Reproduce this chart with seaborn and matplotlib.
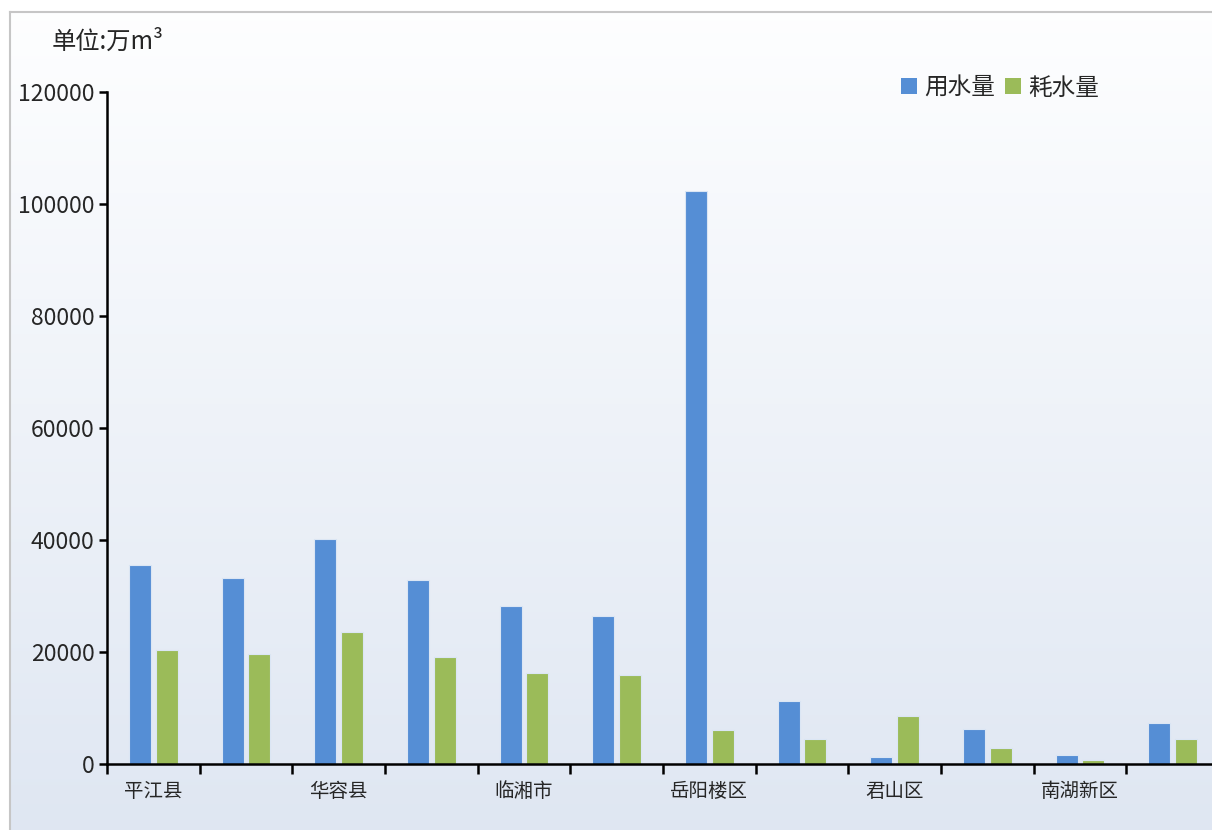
import numpy as np
import pandas as pd
import matplotlib
matplotlib.use('Agg')
import matplotlib.pyplot as plt
import seaborn as sns
from matplotlib.patches import Patch

# data (万m3)
districts = ['平江县', '湘阴县', '华容县', '汨罗市', '临湘市', '岳阳县',
             '岳阳楼区', '云溪区', '君山区', '经开区', '南湖新区', '屈原区']
use_water = [35500, 33200, 40200, 32900, 28200, 26400,
             102300, 11250, 1250, 6250, 1600, 7300]
consume_water = [20400, 19600, 23600, 19100, 16300, 15900,
                 6100, 4500, 8600, 2900, 700, 4500]
series_names = ['用水量', '耗水量']
colors = ['#558ed5', '#9bbb59']

df = pd.DataFrame({
    'district': districts * 2,
    'value': use_water + consume_water,
    'series': [series_names[0]] * len(districts) + [series_names[1]] * len(districts),
})

sns.set_style('white')
plt.rcParams['font.family'] = ['Noto Sans CJK SC', 'DejaVu Sans']

fig = plt.figure(figsize=(12.12, 8.3), dpi=100)

# background gradient panel with grey border
bg = fig.add_axes([10 / 1212, 0, 1, 1 - 12 / 830], zorder=-2)
grad = np.linspace(0, 1, 256).reshape(-1, 1)
top = np.array([0.995, 0.997, 1.0])
bottom = np.array([0.875, 0.905, 0.950])
img = top + (bottom - top) * grad[..., None]
bg.imshow(img, aspect='auto', extent=[0, 1, 0, 1])
bg.set_xticks([])
bg.set_yticks([])
for s in ['right', 'bottom']:
    bg.spines[s].set_visible(False)
for s in ['left', 'top']:
    bg.spines[s].set_color('#c6c6c6')
    bg.spines[s].set_linewidth(1.5)

ax = fig.add_axes([107 / 1212, 1 - 764 / 830, 1112 / 1212, (764 - 92) / 830])
ax.set_facecolor('none')

sns.barplot(data=df, x='district', y='value', hue='series', order=districts,
            hue_order=series_names, palette=colors, saturation=1,
            width=0.572, gap=0.17, edgecolor='#dbe6f4', linewidth=0.8,
            legend=False, ax=ax)

ax.set_xlim(-0.5, len(districts) - 0.5)
ax.set_ylim(0, 120000)
ax.set_yticks(np.arange(0, 120001, 20000))
ax.set_yticklabels([str(v) for v in range(0, 120001, 20000)], fontsize=16.5)

# labels on every other category, ticks at category boundaries
ax.set_xticks(range(len(districts)))
ax.set_xticklabels([d if i % 2 == 0 else '' for i, d in enumerate(districts)], fontsize=14)
ax.set_xticks(np.arange(-0.5, len(districts)), minor=True)
ax.tick_params(bottom=True, left=True, which='both')
ax.tick_params(axis='x', which='major', length=0, pad=12)
ax.tick_params(axis='x', which='minor', length=7, width=1.8, direction='out', color='black')
ax.tick_params(axis='y', which='major', length=6, width=1.8, direction='out', color='black', pad=3)
ax.set_xlabel('')
ax.set_ylabel('')

for s in ['top', 'right']:
    ax.spines[s].set_visible(False)
for s in ['left', 'bottom']:
    ax.spines[s].set_color('black')
    ax.spines[s].set_linewidth(1.8)

fig.text(52 / 1212, 1 - 42 / 830, '单位:万m³', fontsize=17.5, va='center', ha='left')

handles = [Patch(facecolor=c, edgecolor='none') for c in colors]
fig.legend(handles, series_names, loc='center', bbox_to_anchor=(1000 / 1212, 1 - 88 / 830),
           ncol=2, frameon=False, fontsize=17, handlelength=0.7, handleheight=0.7,
           handletextpad=0.3, columnspacing=0.4)

fig.savefig('out.png', dpi=100)
